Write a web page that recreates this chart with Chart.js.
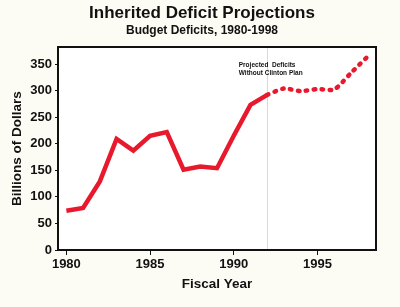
<!DOCTYPE html>
<html>
<head>
<meta charset="utf-8">
<script src="https://cdn.jsdelivr.net/npm/chart.js@4/dist/chart.umd.min.js"></script>
<style>
html,body{margin:0;padding:0;background:#fdfcf4;}
#wrap{width:400px;height:307px;position:relative;}
canvas{display:block;}
</style>
</head>
<body>
<div id="wrap"><canvas id="c" width="400" height="307"></canvas></div>
<script>
const titleText = "Inherited Deficit Projections";
const subtitleText = "Budget Deficits, 1980-1998";
const xAxisTitle = "Fiscal Year";
const yAxisTitle = "Billions of Dollars";
const noteLines = ["Projected  Deficits", "Without Clinton Plan"];

const actualYears = [1980,1981,1982,1983,1984,1985,1986,1987,1988,1989,1990,1991,1992];
const actualValues = [74,79,129,209,187,215,222,151,157,154,215,273,292];
const projYears = [1992,1993,1994,1995,1996,1997,1998];
const projValues = [292,304,299,303,302,333,364];

const xTicks = [1980,1985,1990,1995];
const yTicks = [0,25,50,75,100,125,150,175,200,225,250,275,300,325,350,375];
const dividerYear = 1992;

const RED = '#e8192c';
const FONT = "'Liberation Sans', Arial, Helvetica, sans-serif";

const toPts = (xs, ys) => xs.map((x,i)=>({x:x, y:ys[i]}));

const decor = {
  id:'decor',
  beforeDraw(chart){
    const {ctx, chartArea:a} = chart;
    ctx.save();
    ctx.fillStyle = '#fdfcf4';
    ctx.fillRect(0,0,chart.width,chart.height);
    ctx.fillStyle = '#ffffff';
    ctx.fillRect(a.left,a.top,a.right-a.left,a.bottom-a.top);
    const xs = chart.scales.x;
    const dx = Math.round(xs.getPixelForValue(dividerYear))+0.5;
    ctx.strokeStyle = '#cfe0cf';
    ctx.lineWidth = 1;
    ctx.beginPath(); ctx.moveTo(dx,a.top); ctx.lineTo(dx,a.bottom); ctx.stroke();
    ctx.restore();
  },
  afterDraw(chart){
    const {ctx, chartArea:a} = chart;
    ctx.save();
    ctx.strokeStyle = '#111';
    ctx.lineWidth = 2;
    ctx.strokeRect(a.left, a.top, a.right-a.left, a.bottom-a.top);
    ctx.fillStyle = '#111';
    ctx.textAlign = 'center';
    ctx.textBaseline = 'alphabetic';
    ctx.font = "bold 17px " + FONT;
    ctx.fillText(titleText, 202, 18);
    ctx.font = "bold 12px " + FONT;
    ctx.fillText(subtitleText, 202, 34);
    const xs = chart.scales.x, ys = chart.scales.y;
    ctx.textAlign = 'left';
    ctx.font = "bold 6.5px " + FONT;
    const nx = xs.getPixelForValue(1990.3);
    ctx.fillText(noteLines[0], nx, ys.getPixelForValue(345));
    ctx.fillText(noteLines[1], nx, ys.getPixelForValue(330));
    ctx.restore();
  }
};

new Chart(document.getElementById('c'), {
  type:'line',
  data:{
    datasets:[
      {data: toPts(actualYears, actualValues), borderColor:RED, borderWidth:4.5, pointRadius:0, tension:0, borderJoinStyle:'miter', borderCapStyle:'butt'},
      {data: toPts(projYears, projValues), borderColor:RED, borderWidth:4.5, pointRadius:0, tension:0.2, borderDash:[1.5,6.5], borderCapStyle:'round'}
    ]
  },
  options:{
    responsive:false,
    animation:false,
    devicePixelRatio:1,
    layout:{padding:{top:47, left:9, right:24, bottom:15}},
    plugins:{legend:{display:false}, tooltip:{enabled:false}, title:{display:false}},
    scales:{
      x:{
        type:'linear', min:1979.5, max:1998.5,
        afterBuildTicks(s){ s.ticks = xTicks.map(v=>({value:v})); },
        afterFit(s){ s.height = 42; },
        border:{display:false},
        grid:{drawOnChartArea:false, drawTicks:true, tickLength:5, color:'#111', lineWidth:1},
        ticks:{color:'#111', font:{family:FONT, size:13, weight:'bold'}, padding:2, maxRotation:0, callback:v=>String(v)},
        title:{display:true, text:xAxisTitle, color:'#111', font:{family:FONT, size:13.5, weight:'bold'}, padding:{top:2,bottom:0}}
      },
      y:{
        min:0, max:382,
        afterBuildTicks(s){ s.ticks = yTicks.map(v=>({value:v})); },
        afterFit(s){ s.width = 49; },
        border:{display:false},
        grid:{drawOnChartArea:false, drawTicks:true, tickLength:3, color:'#111', lineWidth:1},
        ticks:{color:'#111', font:{family:FONT, size:13, weight:'bold'}, padding:3, callback:v=>(v%50===0?String(v):'')},
        title:{display:true, text:yAxisTitle, color:'#111', font:{family:FONT, size:13.5, weight:'bold'}, padding:{top:0,bottom:2}}
      }
    }
  },
  plugins:[decor]
});
</script>
</body>
</html>
